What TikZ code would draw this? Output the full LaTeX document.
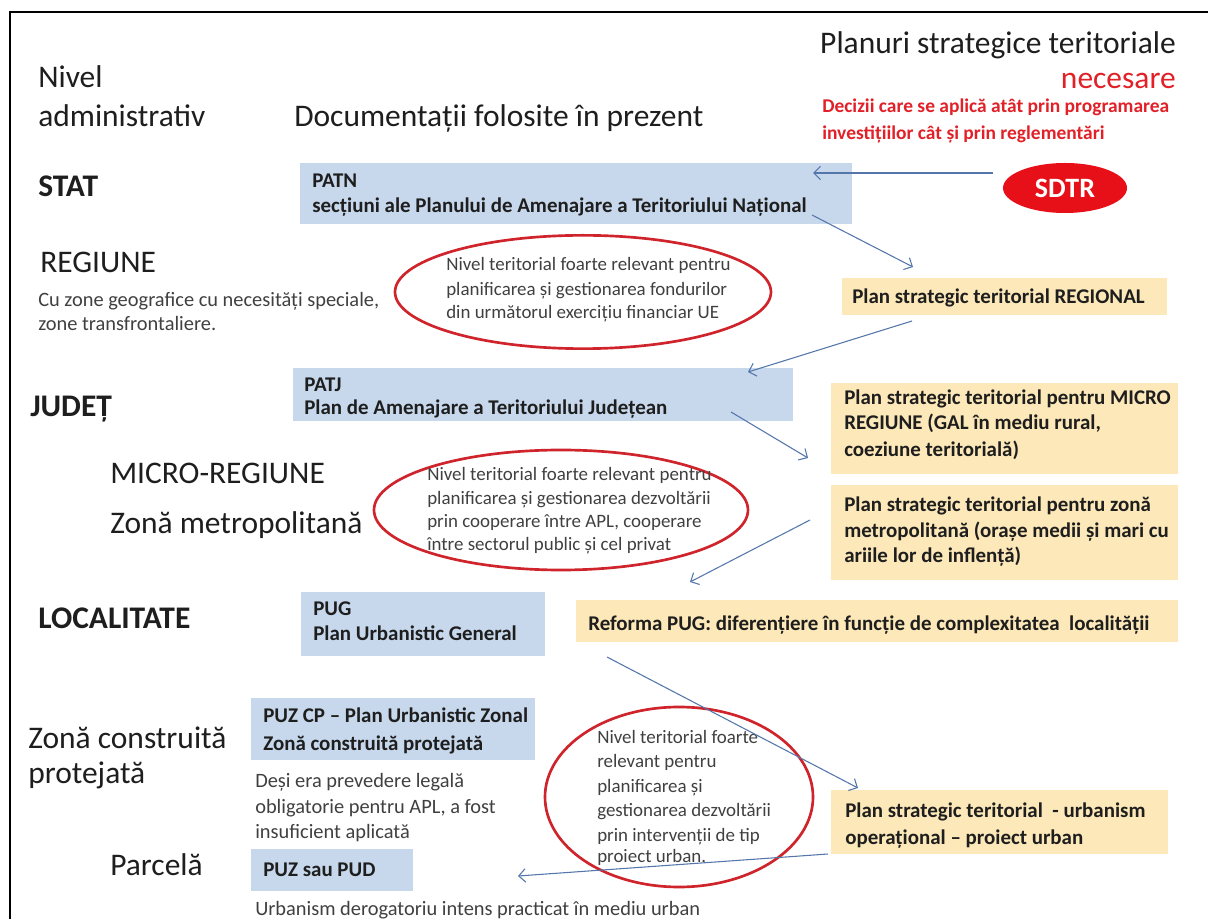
\documentclass[tikz,border=0pt]{standalone}
\usepackage{fontspec}
\setmainfont{Carlito}
\usetikzlibrary{arrows.meta,fit,shapes.geometric}
\definecolor{boxblue}{RGB}{199,216,236}
\definecolor{boxtan}{RGB}{252,232,184}
\definecolor{ellred}{RGB}{208,36,44}
\definecolor{sdtrred}{RGB}{232,16,24}
\definecolor{headred}{RGB}{226,32,40}
\definecolor{arrblue}{RGB}{84,118,170}
\definecolor{txt}{RGB}{30,30,30}
\definecolor{soft}{RGB}{64,64,64}
\begin{document}
\begin{tikzpicture}[x=0.75pt,y=-0.75pt,
  big/.style={font=\fontsize{23.6}{28}\selectfont, text=txt, anchor=base west, inner sep=0},
  bigb/.style={big, font=\fontsize{23.6}{28}\selectfont\bfseries},
  med/.style={font=\fontsize{14.2}{17}\selectfont, text=soft, anchor=base west, inner sep=0},
  desc/.style={font=\fontsize{15.3}{18}\selectfont, text=soft, anchor=base west, inner sep=0},
  boxt/.style={font=\fontsize{15.7}{18}\selectfont\bfseries, text=txt, anchor=base west, inner sep=0},
  redt/.style={font=\fontsize{14.6}{17}\selectfont\bfseries, text=headred, anchor=base west, inner sep=0},
  bluebox/.style={fill=boxblue, draw=none, inner sep=0},
  tanbox/.style={fill=boxtan, draw=none, inner sep=0},
  redell/.style={ellipse, draw=ellred, line width=2pt, inner sep=0},
  arr/.style={draw=arrblue, line width=0.8pt, -{Straight Barb[length=5pt,width=10pt]}},
]
\useasboundingbox (0,0) rectangle (1208,919);
\fill[white] (0,0) rectangle (1208,919);
\draw[line width=2.2pt] (10,919) -- (10,12) -- (1208,12);

% header
\node[big, anchor=base east] (h1) at (1176,54) {Planuri strategice teritoriale};
\node[big, anchor=base east, text=headred] (h2) at (1176,89) {necesare};
\node[redt] (h3) at (822,113) {Decizii care se aplică atât prin programarea};
\node[redt] (h4) at (822,140) {investițiilor cât și prin reglementări};
\node[big] (n1) at (38,88) {Nivel};
\node[big] (n2) at (38,127) {administrativ};
\node[big] (doc) at (294,127) {Documentații folosite în prezent};

% left labels
\node[bigb] (stat) at (38,197) {STAT};
\node[big] (reg) at (40,273) {REGIUNE};
\node[desc] (reg1) at (38,307) {Cu zone geografice cu necesități speciale,};
\node[desc] (reg2) at (38,331) {zone transfrontaliere.};
\node[bigb] (jud) at (30,417) {JUDEȚ};
\node[big] (micro) at (110,484) {MICRO-REGIUNE};
\node[big] (zm) at (110,534) {Zonă metropolitană};
\node[bigb] (loc) at (38,629) {LOCALITATE};
\node[big] (zc1) at (28,749) {Zonă construită};
\node[big] (zc2) at (28,784) {protejată};
\node[big] (parc) at (110,875) {Parcelă};

% boxes
\node[bluebox, fit={(300,163) (852,224)}] (patn) {};
\node[boxt] at (312,188) {PATN};
\node[boxt] at (312,213) {secțiuni ale Planului de Amenajare a Teritoriului Național};

\node[ellipse, fill=sdtrred, minimum width=93pt, minimum height=37.5pt, inner sep=0,
      text=white, font=\fontsize{21}{24}\selectfont\bfseries] (sdtr) at (1065,188) {SDTR};

\node[tanbox, fit={(842,278) (1167,315)}] (regional) {};
\node[boxt] at (852,304) {Plan strategic teritorial REGIONAL};

\node[bluebox, fit={(293,368) (793,421)}] (patj) {};
\node[boxt] at (304,392) {PATJ};
\node[boxt] at (304,415) {Plan de Amenajare a Teritoriului Județean};

\node[tanbox, fit={(831,383) (1178,474)}] (microbox) {};
\node[boxt] at (844,405) {Plan strategic teritorial pentru MICRO};
\node[boxt] at (844,430) {REGIUNE (GAL în mediu rural,};
\node[boxt] at (844,457) {coeziune teritorială)};

\node[tanbox, fit={(831,485) (1178,580)}] (metro) {};
\node[boxt] at (844,512) {Plan strategic teritorial pentru zonă};
\node[boxt] at (844,538) {metropolitană (orașe medii și mari cu};
\node[boxt] at (844,563) {ariile lor de inflență)};

\node[bluebox, fit={(301,592) (545,656)}] (pug) {};
\node[boxt] at (313,616) {PUG};
\node[boxt] at (313,641) {Plan Urbanistic General};

\node[tanbox, fit={(576,600) (1178,642)}] (reforma) {};
\node[boxt] at (588,631) {Reforma PUG: diferențiere în funcție de complexitatea \ localității};

\node[bluebox, fit={(251,698) (535,760)}] (puzcp) {};
\node[boxt] at (263,723) {PUZ CP – Plan Urbanistic Zonal};
\node[boxt] at (263,751) {Zonă construită protejată};
\node[desc] at (255,788) {Deși era prevedere legală};
\node[desc] at (255,814) {obligatorie pentru APL, a fost};
\node[desc] at (255,839) {insuficient aplicată};

\node[tanbox, fit={(831,790) (1168,854)}] (urban) {};
\node[boxt] at (845,818) {Plan strategic teritorial \ - urbanism};
\node[boxt] at (845,845) {operațional – proiect urban};

\node[bluebox, fit={(251,849) (413,891)}] (puzpud) {};
\node[boxt] at (263,877) {PUZ sau PUD};
\node[desc] at (255,916) {Urbanism derogatoriu intens practicat în mediu urban};

% ellipses
\node[redell, minimum width=282pt, minimum height=85pt] (e1) at (583,292) {};
\node[med] at (446,271) {Nivel teritorial foarte relevant pentru};
\node[med] at (446,296) {planificarea și gestionarea fondurilor};
\node[med] at (446,319) {din următorul exercițiu financiar UE};

\node[redell, minimum width=280.5pt, minimum height=90pt] (e2) at (561,510) {};
\node[med] at (427,481) {Nivel teritorial foarte relevant pentru};
\node[med] at (427,505) {planificarea și gestionarea dezvoltării};
\node[med] at (427,528) {prin cooperare între APL, cooperare};
\node[med] at (427,551) {între sectorul public și cel privat};

\node[redell, minimum width=201pt, minimum height=135pt] (e3) at (679,797) {};
\node[med] at (597,744) {Nivel teritorial foarte};
\node[med] at (597,768) {relevant pentru};
\node[med] at (597,793) {planificarea și};
\node[med] at (597,817) {gestionarea dezvoltării};
\node[med] at (597,841) {prin intervenții de tip};
\node[med] at (597,863) {proiect urban.};

% arrows
\coordinate (a1s) at (993,173);  \coordinate (a1e) at (813,173);
\coordinate (a2s) at (812,215);  \coordinate (a2e) at (913,267);
\coordinate (a3s) at (912,321);  \coordinate (a3e) at (748,372);
\coordinate (a4s) at (731,412);  \coordinate (a4e) at (808,458);
\coordinate (a5s) at (810,520);  \coordinate (a5e) at (690,582);
\coordinate (a6s) at (607,657);  \coordinate (a6e) at (858,788);
\coordinate (a7s) at (828,854);  \coordinate (a7e) at (518,876);
\draw[arr] (a1s) -- (a1e);
\draw[arr] (a2s) -- (a2e);
\draw[arr] (a3s) -- (a3e);
\draw[arr] (a4s) -- (a4e);
\draw[arr] (a5s) -- (a5e);
\draw[arr] (a6s) -- (a6e);
\draw[arr] (a7s) -- (a7e);
\end{tikzpicture}
\end{document}
